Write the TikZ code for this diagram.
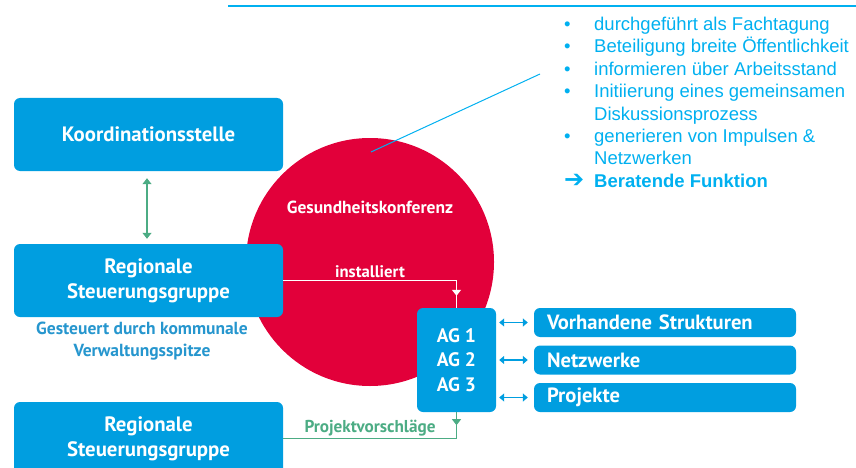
\documentclass[tikz,border=0pt]{standalone}
\usepackage{fontspec}
\setmainfont{PT Sans}
\newfontfamily\listfont{Liberation Sans}
\newfontfamily\symfont{DejaVu Sans}
\usetikzlibrary{arrows.meta,decorations.markings}

\definecolor{boxblue}{RGB}{0,158,224}
\definecolor{konfred}{RGB}{226,0,58}
\definecolor{lgreen}{RGB}{76,172,132}
\definecolor{listblue}{RGB}{0,176,240}
\definecolor{noteblue}{RGB}{38,150,206}

\tikzset{
  blockbox/.style={fill=boxblue, rounded corners=6pt, text=white, align=center,
    font=\bfseries\fontsize{20.8}{25}\selectfont, minimum width=269pt, minimum height=73pt, inner sep=0pt},
  sidebox/.style={fill=boxblue, rounded corners=6pt, text=white, align=left,
    font=\bfseries\fontsize{20.6}{25}\selectfont, text width=236pt, inner xsep=13pt, inner ysep=0pt, minimum height=29pt},
  twoway/.style={boxblue, line width=1.3pt, {Triangle[width=8pt,length=5pt]}-{Triangle[width=8pt,length=5pt]}, shorten <=3pt, shorten >=6pt},
}

\begin{document}
\begin{tikzpicture}[x=1pt,y=-1pt]
    \useasboundingbox (0,0) rectangle (856,468);
    \clip (0,0) rectangle (856,468);

    % top rule and callout
    \draw[listblue, line width=1.6pt] (228,6) -- (856,6);
    \node[circle, fill=konfred, minimum size=248pt, inner sep=0pt] (konf) at (370,262) {};
    \node[text=white, font=\bfseries\fontsize{17.5}{20}\selectfont] (konftxt) at (370,207) {Gesundheitskonferenz};
    \coordinate (konfpt) at (371,152);
    \coordinate (listpt) at (540,74);
    \draw[listblue, line width=1pt] (konfpt) -- (listpt);

    % left column
    \node[blockbox] (koord) at (148.5,134.5) {Koordinationsstelle};
    \node[blockbox] (steuerA) at (148.5,280.5) {Regionale\\Steuerungsgruppe};
    \node[blockbox] (steuerB) at (148.5,438.5) {Regionale\\Steuerungsgruppe};
    \node[text=noteblue, align=center, font=\bfseries\fontsize{17.5}{22}\selectfont] (note) at (142,341) {Gesteuert durch kommunale\\Verwaltungsspitze};
    \draw[lgreen, line width=1.2pt, {Triangle[width=9pt,length=6pt]}-{Triangle[width=9pt,length=6pt]}] ([yshift=-7pt]koord.south -| 147,0) -- ([yshift=5pt]steuerA.north -| 147,0);

    % working groups
    \node[fill=boxblue, rounded corners=6pt, text=white, align=center, font=\bfseries\fontsize{19.5}{24.5}\selectfont,
      minimum width=79pt, minimum height=104pt, inner sep=0pt] (ag) at (456.5,360) {AG 1\\AG 2\\AG 3};
    \node[sidebox] (struk) at (665,322.5) {Vorhandene Strukturen};
    \node[sidebox] (netz) at (665,360) {Netzwerke};
    \node[sidebox] (proj) at (665,397.5) {Projekte};
    \foreach \b in {struk,netz,proj}
      \draw[twoway] (ag.east |- \b.west) -- (\b.west);

    % connectors
    \draw[white, line width=1.2pt, postaction={decorate},
      decoration={markings, mark=at position -12pt with {\arrow[white]{Triangle[width=9pt,length=6pt]}}}]
      (steuerA.east) -| (ag.north);
    \node[text=white, font=\bfseries\fontsize{16.7}{20}\selectfont] (inst) at (370,272) {installiert};
    \draw[lgreen, line width=1.2pt, postaction={decorate},
      decoration={markings, mark=at position 13pt with {\arrow[lgreen]{Triangle[width=9pt,length=6pt]}}}]
      (ag.south) |- (steuerB.east);
    \node[text=lgreen, font=\bfseries\fontsize{17.2}{20}\selectfont] (vorschl) at (370,428) {Projektvorschläge};

    % bullet list
    \node[anchor=base west, inner sep=0pt, text=listblue, font=\listfont\fontsize{18.5}{22.4}\selectfont] (list) at (564,30.5) {%
      \begin{tabular}[t]{@{}p{30pt}@{}l@{}}
        \textbullet & durchgeführt als Fachtagung\\
        \textbullet & Beteiligung breite Öffentlichkeit\\
        \textbullet & informieren über Arbeitsstand\\
        \textbullet & Initiierung eines gemeinsamen\\
                    & Diskussionsprozess\\
        \textbullet & generieren von Impulsen \&\\
                    & Netzwerken\\
        {\symfont\bfseries\fontsize{24}{22.4}\selectfont ➔} & \bfseries Beratende Funktion
      \end{tabular}};
\end{tikzpicture}
\end{document}
